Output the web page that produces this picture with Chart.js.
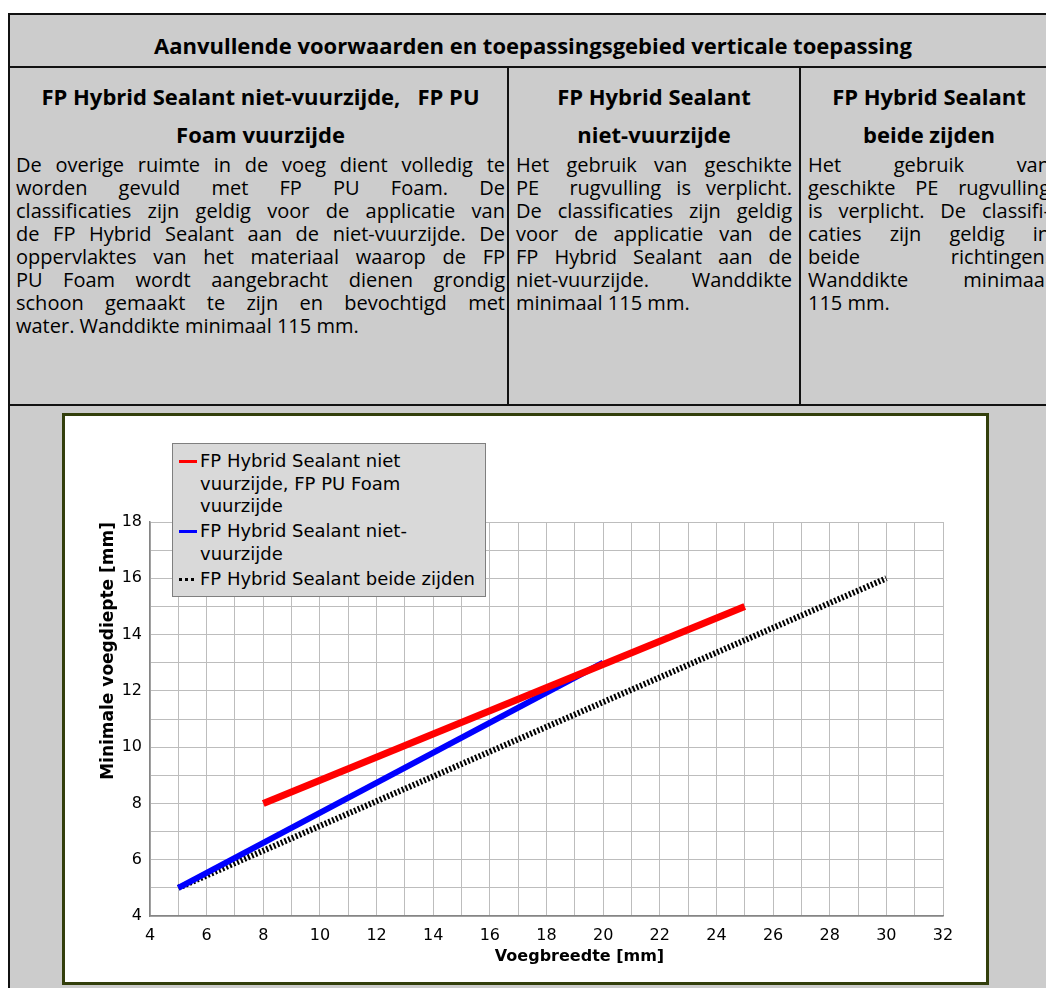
<!DOCTYPE html>
<html>
<head>
<meta charset="utf-8">
<script src="https://cdn.jsdelivr.net/npm/chart.js@4.4.1/dist/chart.umd.min.js"></script>
<style>
  body { margin: 0; width: 1046px; height: 988px; overflow: hidden; background: #fff; font-family: "Open Sans", sans-serif; color: #000; }
  .abs { position: absolute; }
  #sheet { left: 8px; top: 13px; width: 1050px; height: 1000px; border: 2px solid #111; background: #cccccc; box-sizing: border-box; }
  .hline { height: 2px; background: #111; left: 8px; width: 1050px; }
  .vline { width: 2px; background: #111; top: 66px; height: 340px; }
  .title { left: 8px; width: 1050px; top: 30px; line-height: 30px; text-align: center; font-weight: bold; font-size: 22px; }
  .col { top: 77px; }
  .head { font-weight: bold; font-size: 22px; line-height: 38px; text-align: center; white-space: nowrap; }
  .body { font-size: 20px; line-height: 23px; }
  .body span { display: block; white-space: nowrap; text-align: justify; text-align-last: justify; }
  .body span.last { text-align-last: left; }
  #frame { left: 62px; top: 413px; width: 927px; height: 572px; border: 3px solid #333f0c; background: #fff; box-sizing: border-box; }
  #wrap { position: relative; width: 921px; height: 566px; }
  #legend { position: absolute; left: 107px; top: 27px; width: 312px; background: #d9d9d9; border: 1px solid #7f7f7f; padding: 6px 0 3px 0; font-family: "DejaVu Sans"; font-size: 18px; line-height: 22.5px; }
  #legend ul { list-style: none; margin: 0; padding: 0; }
  #legend li { position: relative; padding-left: 27px; width: 282px; margin-bottom: 2.5px; }
  #legend .swatch { position: absolute; left: 6px; top: 10px; width: 18px; height: 3px; }
</style>
</head>
<body>
<div id="sheet" class="abs"></div>
<div class="abs hline" style="top:66px"></div>
<div class="abs hline" style="top:404px"></div>
<div class="abs vline" style="left:507px"></div>
<div class="abs vline" style="left:799px"></div>

<div class="abs title">Aanvullende voorwaarden en toepassingsgebied verticale toepassing</div>

<div class="abs col" style="left:16px; width:489px">
  <div class="head">FP Hybrid Sealant niet-vuurzijde,&nbsp;&nbsp; FP PU<br>Foam vuurzijde</div>
  <div class="body">
    <span>De overige ruimte in de voeg dient volledig te</span>
    <span>worden gevuld met FP PU Foam. De</span>
    <span>classificaties zijn geldig voor de applicatie van</span>
    <span>de FP Hybrid Sealant aan de niet-vuurzijde. De</span>
    <span>oppervlaktes van het materiaal waarop de FP</span>
    <span>PU Foam wordt aangebracht dienen grondig</span>
    <span>schoon gemaakt te zijn en bevochtigd met</span>
    <span class="last">water. Wanddikte minimaal 115 mm.</span>
  </div>
</div>

<div class="abs col" style="left:516px; width:276px">
  <div class="head">FP Hybrid Sealant<br>niet-vuurzijde</div>
  <div class="body">
    <span>Het gebruik van geschikte</span>
    <span>PE&nbsp; rugvulling is verplicht.</span>
    <span>De classificaties zijn geldig</span>
    <span>voor de applicatie van de</span>
    <span>FP Hybrid Sealant aan de</span>
    <span>niet-vuurzijde.&nbsp; Wanddikte</span>
    <span class="last">minimaal 115 mm.</span>
  </div>
</div>

<div class="abs col" style="left:808px; width:242px">
  <div class="head">FP Hybrid Sealant<br>beide zijden</div>
  <div class="body">
    <span>Het gebruik van</span>
    <span>geschikte PE rugvulling</span>
    <span>is verplicht. De classifi-</span>
    <span>caties zijn geldig in</span>
    <span>beide richtingen.</span>
    <span>Wanddikte minimaal</span>
    <span class="last">115 mm.</span>
  </div>
</div>

<div id="frame" class="abs">
  <div id="wrap">
    <canvas id="chart"></canvas>
    <div id="legend"></div>
  </div>
</div>

<script>
// series names (legend)
const seriesNames = [
  'FP Hybrid Sealant niet vuurzijde, FP PU Foam vuurzijde',
  'FP Hybrid Sealant niet-vuurzijde',
  'FP Hybrid Sealant beide zijden'
];
// Voegbreedte [mm] / Minimale voegdiepte [mm]
const redWidth = [8, 25];
const redDepth = [8, 15];
const blueWidth = [5, 20];
const blueDepth = [5, 13];
const blackWidth = [5, 30];
const blackDepth = [5, 16];

const xTickLabels = [4, 6, 8, 10, 12, 14, 16, 18, 20, 22, 24, 26, 28, 30, 32];
const yTickLabels = [4, 6, 8, 10, 12, 14, 16, 18];
const xTitle = 'Voegbreedte [mm]';
const yTitle = 'Minimale voegdiepte [mm]';

function points(xs, ys) {
  return xs.map((x, i) => ({ x: x, y: ys[i] }));
}

Chart.defaults.font.family = 'DejaVu Sans';
Chart.defaults.color = '#000';

// legend as html so long names can wrap like the original
const htmlLegend = {
  id: 'htmlLegend',
  afterUpdate(chart) {
    const box = document.getElementById('legend');
    box.innerHTML = '';
    const ul = document.createElement('ul');
    chart.data.datasets.forEach((ds) => {
      const li = document.createElement('li');
      const sw = document.createElement('span');
      sw.className = 'swatch';
      if (ds.borderDash && ds.borderDash.length) {
        sw.style.background = 'repeating-linear-gradient(90deg,' + ds.borderColor + ' 0 3px, transparent 3px 6px)';
      } else {
        sw.style.background = ds.borderColor;
      }
      li.appendChild(sw);
      li.appendChild(document.createTextNode(ds.label));
      ul.appendChild(li);
    });
    box.appendChild(ul);
  }
};

// x axis title sits a bit right of centre in the original
const xAxisTitle = {
  id: 'xAxisTitle',
  afterDraw(chart) {
    const ctx = chart.ctx;
    const a = chart.chartArea;
    ctx.save();
    ctx.font = 'bold 16px "DejaVu Sans"';
    ctx.fillStyle = '#000';
    ctx.textAlign = 'center';
    ctx.textBaseline = 'middle';
    ctx.fillText(xTitle, (a.left + a.right) / 2 + 33, a.bottom + 41);
    ctx.restore();
  }
};

const ctx = document.getElementById('chart');
new Chart(ctx, {
  type: 'line',
  data: {
    datasets: [
      {
        label: seriesNames[0],
        data: points(redWidth, redDepth),
        borderColor: 'rgb(255, 0, 0)',
        borderWidth: 7,
        pointRadius: 0
      },
      {
        label: seriesNames[1],
        data: points(blueWidth, blueDepth),
        borderColor: 'rgb(0, 0, 255)',
        borderWidth: 6,
        pointRadius: 0
      },
      {
        label: seriesNames[2],
        data: points(blackWidth, blackDepth),
        borderColor: 'rgb(0, 0, 0)',
        borderWidth: 6,
        borderDash: [2, 2],
        pointRadius: 0
      }
    ]
  },
  options: {
    responsive: true,
    maintainAspectRatio: false,
    animation: false,
    layout: {
      padding: { top: 106, right: 43, left: 0, bottom: 0 }
    },
    plugins: {
      legend: { display: false },
      tooltip: { enabled: false }
    },
    scales: {
      x: {
        type: 'linear',
        min: 4,
        max: 32,
        afterFit(scale) { scale.height = 66; },
        grid: { color: '#bdbdbd', lineWidth: 1, drawTicks: false },
        border: { color: '#858585', width: 1.5 },
        ticks: {
          stepSize: 1,
          autoSkip: false,
          maxRotation: 0,
          padding: 10,
          font: { size: 16 },
          callback: (v) => xTickLabels.includes(v) ? v : ''
        }
      },
      y: {
        type: 'linear',
        min: 4,
        max: 18,
        afterFit(scale) { scale.width = 85; },
        grid: { color: '#bdbdbd', lineWidth: 1, drawTicks: false },
        border: { color: '#858585', width: 1.5 },
        ticks: {
          stepSize: 1,
          autoSkip: false,
          padding: 8,
          font: { size: 16 },
          callback: (v) => yTickLabels.includes(v) ? v : ''
        },
        title: {
          display: true,
          text: yTitle,
          align: 'end',
          padding: 33,
          font: { size: 17, weight: 'bold' }
        }
      }
    }
  },
  plugins: [htmlLegend, xAxisTitle]
});
</script>
</body>
</html>
